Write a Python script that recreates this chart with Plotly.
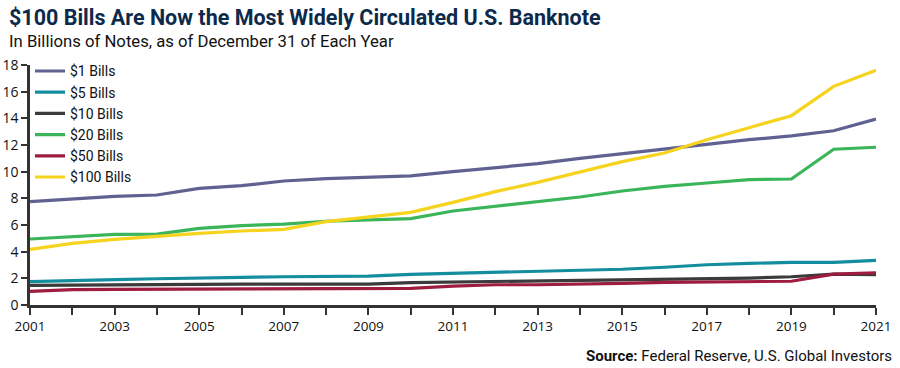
import plotly.graph_objects as go

years = list(range(2001, 2022))

bills_1 = [7.75, 7.97, 8.15, 8.25, 8.75, 8.95, 9.3, 9.48, 9.58, 9.68, 10.0, 10.3, 10.6, 11.0, 11.33, 11.68, 12.05, 12.4, 12.68, 13.07, 13.95]
bills_5 = [1.75, 1.85, 1.9, 1.97, 2.05, 2.07, 2.12, 2.17, 2.17, 2.3, 2.37, 2.42, 2.5, 2.6, 2.68, 2.83, 3.02, 3.12, 3.2, 3.2, 3.35]
bills_10 = [1.47, 1.5, 1.5, 1.52, 1.57, 1.57, 1.57, 1.57, 1.57, 1.68, 1.72, 1.8, 1.8, 1.85, 1.87, 1.92, 1.97, 2.02, 2.12, 2.32, 2.27]
bills_20 = [4.95, 5.13, 5.3, 5.32, 5.75, 5.95, 6.07, 6.28, 6.38, 6.48, 7.05, 7.4, 7.7, 8.1, 8.55, 8.9, 9.15, 9.4, 9.45, 11.68, 11.83]
bills_50 = [1.02, 1.15, 1.17, 1.18, 1.2, 1.25, 1.25, 1.23, 1.23, 1.25, 1.42, 1.52, 1.52, 1.55, 1.62, 1.7, 1.72, 1.78, 1.78, 2.32, 2.42]
bills_100 = [4.17, 4.62, 4.92, 5.17, 5.37, 5.55, 5.67, 6.25, 6.58, 6.95, 7.7, 8.5, 9.2, 10.0, 10.75, 11.4, 12.4, 13.3, 14.2, 16.4, 17.6]

series_names = ["$1 Bills", "$5 Bills", "$10 Bills", "$20 Bills", "$50 Bills", "$100 Bills"]
series_values = [bills_1, bills_5, bills_10, bills_20, bills_50, bills_100]
series_colors = ["#5f6291", "#148e9e", "#3b3b3b", "#3bb55a", "#9e1d3e", "#f6d31c"]

title_text = "$100 Bills Are Now the Most Widely Circulated U.S. Banknote"
subtitle_text = "In Billions of Notes, as of December 31 of Each Year"
source_text = "<b>Source:</b> Federal Reserve, U.S. Global Investors"

fig = go.Figure()
for name, vals, col in zip(series_names, series_values, series_colors):
    fig.add_trace(go.Scatter(x=years, y=vals, name=name, mode="lines",
                             line=dict(color=col, width=3.2)))

fig.update_layout(
    width=900, height=368,
    paper_bgcolor="white", plot_bgcolor="white",
    margin=dict(l=30, r=24, t=65, b=63, autoexpand=False),
    font=dict(family="Open Sans, sans-serif", size=13, color="#111"),
    showlegend=True,
    legend=dict(x=0.0, y=1.04, xanchor="left", yanchor="top",
                bgcolor="rgba(0,0,0,0)", font=dict(family="Roboto, sans-serif", size=14, color="#111"),
                tracegroupgap=0, itemwidth=30),
    xaxis=dict(range=[2001, 2021], tickmode="linear", tick0=2001, dtick=2,
               ticks="outside", ticklen=7, tickwidth=2, tickcolor="#333",
               showline=True, linecolor="#333", linewidth=2.5, showgrid=False,
               zeroline=False, tickfont=dict(family="Open Sans, sans-serif", size=13.5, color="#111"),
               minor=dict(dtick=1, tick0=2001, ticks="outside", ticklen=7, tickwidth=2, tickcolor="#333", showgrid=False)),
    yaxis=dict(range=[0, 18], tickmode="linear", tick0=0, dtick=2,
               ticks="outside", ticklen=6, tickwidth=2, tickcolor="#333",
               showline=True, linecolor="#333", linewidth=2.5, showgrid=False,
               zeroline=False, tickfont=dict(family="Open Sans, sans-serif", size=14, color="#111")),
)

fig.add_annotation(text="<b>" + title_text.replace("$", "&#36;") + "</b>", xref="paper", yref="paper",
                   x=-30/846, y=(305-17)/240, xanchor="left", yanchor="middle",
                   xshift=7, showarrow=False,
                   font=dict(family="Roboto, sans-serif", size=21.5, color="#0e2a4b"))
fig.add_annotation(text=subtitle_text, xref="paper", yref="paper",
                   x=-30/846, y=(305-42)/240, xanchor="left", yanchor="middle",
                   xshift=7, showarrow=False,
                   font=dict(family="Roboto, sans-serif", size=16.7, color="#111"))
fig.add_annotation(text=source_text, xref="paper", yref="paper",
                   x=(894-30)/846, y=-(356-305)/240, xanchor="right", yanchor="middle",
                   showarrow=False,
                   font=dict(family="Roboto, sans-serif", size=15, color="#111"))

fig.write_html("out.html", config={"displayModeBar": False},
               post_script="document.body.style.margin='0';")
